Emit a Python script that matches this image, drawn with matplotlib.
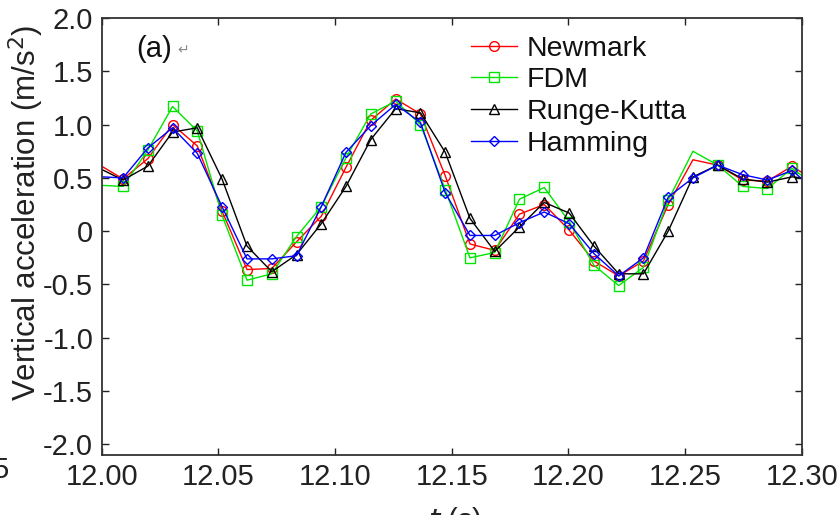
import matplotlib
matplotlib.use("Agg")
import matplotlib.pyplot as plt

plt.rcParams['font.family'] = ['Liberation Sans', 'DejaVu Sans']

t = [12.0000, 12.0092, 12.0198, 12.0304, 12.0410, 12.0516, 12.0623, 12.0729,
     12.0835, 12.0941, 12.1047, 12.1153, 12.1260, 12.1366, 12.1472, 12.1578,
     12.1684, 12.1790, 12.1896, 12.2003, 12.2109, 12.2215, 12.2321, 12.2427,
     12.2533, 12.2639, 12.2746, 12.2852, 12.2958, 12.3000]

newmark = [0.61, 0.49, 0.68, 1.00, 0.80, 0.19, -0.36, -0.35, -0.10, 0.14,
           0.60, 1.04, 1.24, 1.10, 0.52, -0.12, -0.18, 0.16, 0.25, 0.01,
           -0.28, -0.42, -0.28, 0.25, 0.67, 0.62, 0.48, 0.47, 0.61, 0.55]
fdm = [0.43, 0.42, 0.76, 1.17, 0.94, 0.15, -0.46, -0.40, -0.05, 0.23,
       0.69, 1.10, 1.22, 1.00, 0.39, -0.25, -0.20, 0.30, 0.41, 0.09,
       -0.32, -0.51, -0.34, 0.29, 0.75, 0.62, 0.42, 0.40, 0.59, 0.52]
runge_kutta = [0.58, 0.48, 0.61, 0.93, 0.97, 0.49, -0.14, -0.38, -0.22, 0.07,
               0.42, 0.86, 1.15, 1.11, 0.74, 0.12, -0.19, 0.04, 0.27, 0.17,
               -0.14, -0.40, -0.40, 0.00, 0.51, 0.62, 0.49, 0.46, 0.51, 0.50]
hamming = [0.51, 0.50, 0.78, 0.97, 0.73, 0.23, -0.26, -0.26, -0.23, 0.23,
           0.74, 0.99, 1.19, 1.02, 0.36, -0.04, -0.04, 0.08, 0.18, 0.07,
           -0.21, -0.42, -0.25, 0.32, 0.50, 0.62, 0.53, 0.48, 0.57, 0.49]

xticks = [12.00, 12.05, 12.10, 12.15, 12.20, 12.25, 12.30]
xticklabels = ["12.00", "12.05", "12.10", "12.15", "12.20", "12.25", "12.30"]
yticks = [2.0, 1.5, 1.0, 0.5, 0.0, -0.5, -1.0, -1.5, -2.0]
yticklabels = ["2.0", "1.5", "1.0", "0.5", "0", "-0.5", "-1.0", "-1.5", "-2.0"]

fig = plt.figure(figsize=(8.38, 5.15), dpi=100)
ax = fig.add_axes([0.1212, 0.1165, 0.8358, 0.8485])

n = len(t)
inner = list(range(1, n - 1))
no_peak = [i for i in inner if i != 24]

common = dict(lw=1.0, ms=7, mfc='none', mew=1.0)
ax.plot(t, newmark, color='#ff0000', marker='o', markevery=no_peak, label='Newmark', **common)
ax.plot(t, fdm, color='#00e600', marker='s', markevery=no_peak, label='FDM', **common)
ax.plot(t, runge_kutta, color='#000000', marker='^', markevery=inner, label='Runge-Kutta', **common)
ax.plot(t, hamming, color='#0000ff', marker='D', markevery=inner, label='Hamming',
        lw=1.0, ms=5.5, mfc='none', mew=1.0)

ax.set_xlim(12.0, 12.3)
ax.set_ylim(-2.1, 2.0)
ax.set_xticks(xticks)
ax.set_xticklabels(xticklabels)
ax.set_yticks(yticks)
ax.set_yticklabels(yticklabels)
ax.tick_params(direction='in', length=5, width=1.0, top=True, right=True,
               labelsize=21, pad=6, colors='#222222', labelcolor='#222222')
for s in ax.spines.values():
    s.set_linewidth(1.3)
    s.set_color('#333333')

ax.set_ylabel("Vertical acceleration (m/s$^2$)", fontsize=22.5, color='#222222')
ax.yaxis.set_label_coords(-0.079, 0.555)
ax.set_xlabel("$t$ (s)", fontsize=21, color='#222222')
ax.xaxis.set_label_coords(0.505, -0.114)

ax.text(0.05, 0.93, "(a)", transform=ax.transAxes, fontsize=21, color='#111111',
        ha='left', va='center')
ax.text(0.108, 0.925, "\u21b5", transform=ax.transAxes, fontsize=10, color='#888888',
        ha='left', va='center', family=['DejaVu Sans'])

leg = ax.legend(loc='upper left', bbox_to_anchor=(0.528, 0.96), frameon=False,
                fontsize=20.5, handlelength=1.6, handletextpad=0.35,
                labelspacing=0.2, borderpad=0, borderaxespad=0)
for txt in leg.get_texts():
    txt.set_color('#111111')

fig.text(9 / 838, 1 - 470 / 515, "5", fontsize=21, color='#222222', ha='right', va='center')

fig.savefig("out.png", dpi=100)
